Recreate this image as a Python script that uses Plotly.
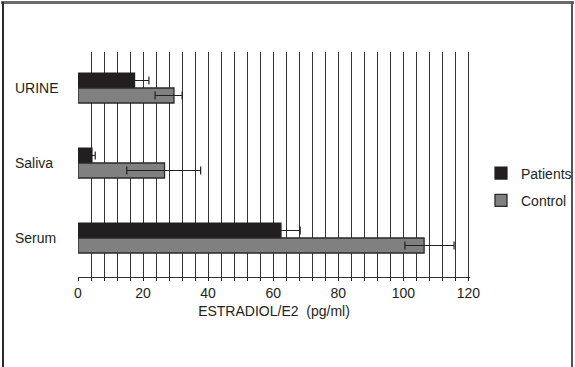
import plotly.graph_objects as go

categories = ["URINE", "Saliva", "Serum"]
patients = [17.4, 4.3, 62.4]
patients_err_plus = [4.4, 1.0, 5.9]
patients_err_minus = [4.4, 1.0, 5.9]
control = [29.5, 26.6, 106.4]
control_err_plus = [2.5, 11.1, 9.2]
control_err_minus = [5.8, 11.6, 5.9]
x_ticks = [0, 20, 40, 60, 80, 100, 120]

W, H = 575, 367
L, R, T, B = 78, 105, 52, 90
PW, PH = W - L - R, H - T - B

def px_x(p):
    return (p - L) / PW

def px_y(p):
    return 1 - (p - T) / PH

dark = "#231f20"
font = "Liberation Sans, Arial, sans-serif"

fig = go.Figure()
fig.add_trace(go.Bar(
    name="Patients", y=categories, x=patients, orientation="h",
    marker=dict(color=dark, line=dict(color=dark, width=1.2)),
    error_x=dict(type="data", symmetric=False, array=patients_err_plus,
                 arrayminus=patients_err_minus, color=dark, thickness=1.2, width=4),
    legendgroup="p",
))
fig.add_trace(go.Bar(
    name="Control", y=categories, x=control, orientation="h",
    marker=dict(color="#808080", line=dict(color="#2a2a2a", width=1.3)),
    error_x=dict(type="data", symmetric=False, array=control_err_plus,
                 arrayminus=control_err_minus, color=dark, thickness=1.2, width=4),
    legendgroup="c",
))

for c in categories:
    fig.add_annotation(x=px_x(13), xref="paper", y=c, yref="y", text=c,
                       showarrow=False, xanchor="left", yanchor="middle",
                       font=dict(family=font, size=14, color=dark))

# outer frame
fig.add_shape(type="line", xref="paper", yref="paper", x0=px_x(1), x1=px_x(574),
              y0=px_y(2.5), y1=px_y(2.5), line=dict(color="#6a6a6a", width=3))
fig.add_shape(type="line", xref="paper", yref="paper", x0=px_x(3), x1=px_x(3),
              y0=px_y(2), y1=px_y(370), line=dict(color="#2a2a2a", width=2))
fig.add_shape(type="line", xref="paper", yref="paper", x0=px_x(572), x1=px_x(572),
              y0=px_y(2), y1=px_y(370), line=dict(color="#555555", width=2))

fig.update_layout(
    width=W, height=H, autosize=False,
    margin=dict(l=L, r=R, t=T, b=B, autoexpand=False),
    paper_bgcolor="white", plot_bgcolor="white",
    barmode="group", bargap=0.6, bargroupgap=0,
    font=dict(family=font, size=14, color=dark),
    showlegend=True,
    legend=dict(x=px_x(481), y=px_y(187), xanchor="left", yanchor="middle",
                traceorder="grouped", tracegroupgap=6,
                font=dict(family=font, size=14, color=dark),
                bgcolor="rgba(0,0,0,0)"),
    xaxis=dict(range=[0, 120.5], tickvals=x_ticks, ticks="outside", ticklen=3,
               tickcolor=dark, tickwidth=1.2,
               showgrid=True, gridcolor="#333333", gridwidth=1.3,
               minor=dict(dtick=4, tick0=0, showgrid=True, gridcolor="#333333",
                          gridwidth=1.3, ticks="outside", ticklen=3, tickcolor=dark),
               showline=True, linecolor="#333333", linewidth=1.3,
               zeroline=False,
               tickfont=dict(family=font, size=14, color=dark),
               title=dict(text="ESTRADIOL/E2&nbsp; (pg/ml)", standoff=6,
                          font=dict(family=font, size=14, color=dark))),
    yaxis=dict(type="category", categoryorder="array", categoryarray=categories,
               range=[2.52, -0.48], autorange=False,
               showticklabels=False, showgrid=False, zeroline=False, showline=False,
               ticks=""),
)

fig.write_html(
    "out.html",
    config={"responsive": False, "displayModeBar": False},
    post_script="document.body.style.margin='0';document.body.style.overflow='hidden';",
)
